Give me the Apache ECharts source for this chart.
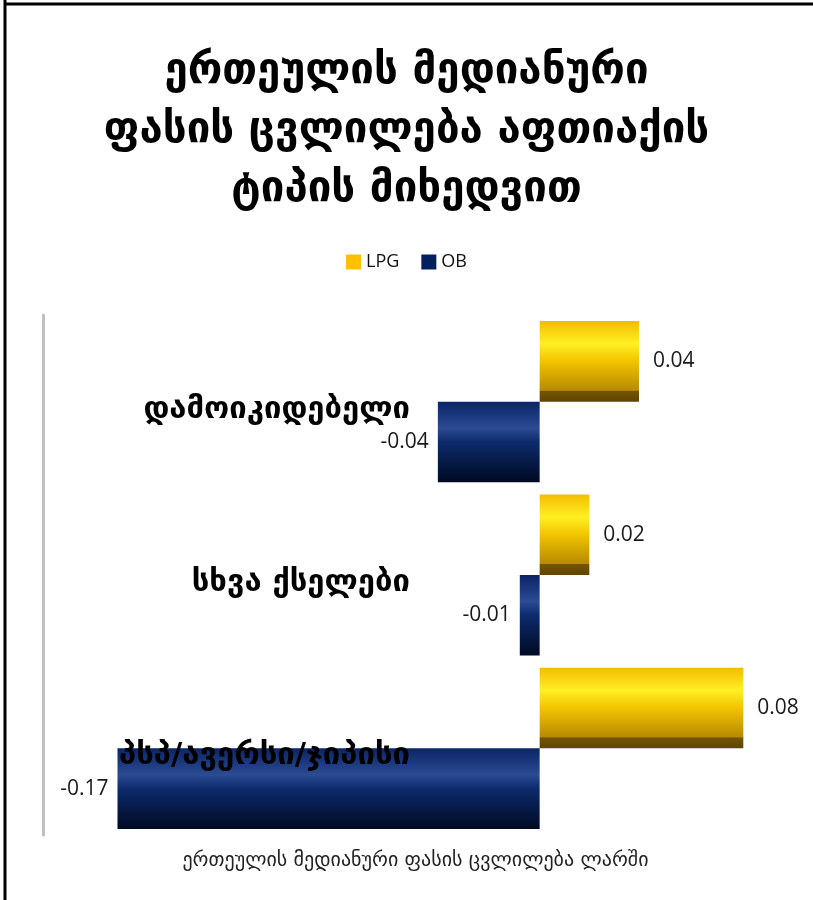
<!DOCTYPE html>
<html>
<head>
<meta charset="utf-8">
<script src="https://cdn.jsdelivr.net/npm/echarts@6/dist/echarts.min.js"></script>
<style>
  html, body { margin: 0; padding: 0; background: #fff; }
  #chart { width: 813px; height: 900px; }
</style>
</head>
<body>
<div id="chart"></div>
<script>
// chart values
const categories = ['დამოიკიდებელი', 'სხვა ქსელები', 'პსპ/ავერსი/ჯიპისი'];
const lpgValues = [0.04, 0.02, 0.082];
const obValues = [-0.041, -0.008, -0.17];
const seriesNames = ['LPG', 'OB'];

const titleText = 'ერთეულის მედიანური\nფასის ცვლილება აფთიაქის\nტიპის მიხედვით';
const axisName = 'ერთეულის მედიანური ფასის ცვლილება ლარში';

const georgianFont = 'DejaVu Sans';

const goldFill = new echarts.graphic.LinearGradient(0, 0, 0, 1, [
    { offset: 0, color: '#f3bd00' },
    { offset: 0.28, color: '#fff023' },
    { offset: 0.5, color: '#f2c400' },
    { offset: 0.86, color: '#b88a00' },
    { offset: 0.87, color: '#735400' },
    { offset: 1, color: '#5e4500' }
]);
const navyFill = new echarts.graphic.LinearGradient(0, 0, 0, 1, [
    { offset: 0, color: '#0b2466' },
    { offset: 0.33, color: '#2b4b93' },
    { offset: 0.5, color: '#0d2a6c' },
    { offset: 1, color: '#000a22' }
]);

const chart = echarts.init(document.getElementById('chart'));

const valueLabel = (pos, dist) => ({
    show: true,
    position: pos,
    distance: dist,
    fontSize: 21,
    color: '#1a1a1a',
    fontFamily: 'Open Sans',
    formatter: p => p.value.toFixed(2)
});

chart.setOption({
    animation: false,
    backgroundColor: '#ffffff',
    title: {
        text: titleText,
        left: 'center',
        top: 38,
        textStyle: {
            fontSize: 42,
            fontWeight: 'bold',
            lineHeight: 59,
            color: '#000',
            fontFamily: georgianFont
        }
    },
    legend: {
        top: 248,
        left: 'center',
        icon: 'rect',
        itemWidth: 15,
        itemHeight: 15,
        itemGap: 22,
        textStyle: { fontSize: 18, color: '#111', fontFamily: 'Open Sans' },
        data: [
            { name: seriesNames[0], itemStyle: { color: '#ffc000' } },
            { name: seriesNames[1], itemStyle: { color: '#002060' } }
        ]
    },
    grid: { left: 43, right: 25, top: 315, bottom: 65, containLabel: false },
    xAxis: {
        type: 'value',
        min: -0.2,
        max: 0.1,
        axisLine: { show: false },
        axisTick: { show: false },
        axisLabel: { show: false },
        splitLine: { show: false },
        name: axisName,
        nameLocation: 'middle',
        nameGap: 16,
        nameTextStyle: { fontSize: 20, color: '#222', fontFamily: georgianFont }
    },
    yAxis: {
        type: 'category',
        data: categories,
        inverse: true,
        z: 10,
        axisLine: { show: true, onZero: false, lineStyle: { color: '#c0c0c0', width: 3 } },
        axisTick: { show: false },
        axisLabel: {
            margin: -367,
            align: 'right',
            formatter: v => '{c|' + v + '}',
            rich: {
                c: {
                    padding: [16, 0, 0, 0],
                    fontSize: 31,
                    fontWeight: 'bold',
                    color: '#000',
                    fontFamily: georgianFont
                }
            }
        }
    },
    series: [
        {
            name: seriesNames[0],
            type: 'bar',
            data: lpgValues,
            barGap: '0%',
            barCategoryGap: '7%',
            itemStyle: { color: goldFill },
            label: valueLabel('right', 14)
        },
        {
            name: seriesNames[1],
            type: 'bar',
            data: obValues,
            itemStyle: { color: navyFill },
            label: valueLabel('left', 9)
        }
    ],
    graphic: [
        { type: 'line', shape: { x1: 5, y1: 0, x2: 5, y2: 900 }, style: { stroke: '#000', lineWidth: 3 } },
        { type: 'line', shape: { x1: 4, y1: 4, x2: 813, y2: 4 }, style: { stroke: '#000', lineWidth: 3 } }
    ]
});
</script>
</body>
</html>
